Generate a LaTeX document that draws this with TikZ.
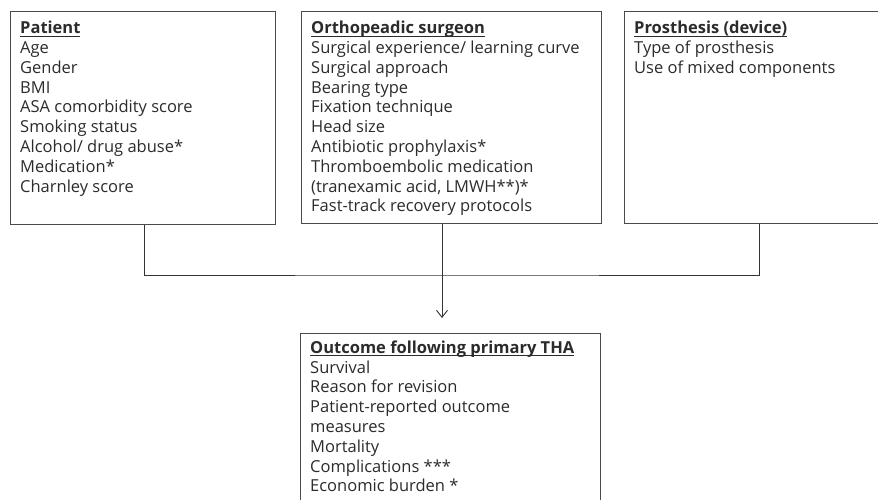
\documentclass[tikz,border=0pt]{standalone}
\usepackage{fontspec}
\setmainfont{Open Sans}
\usetikzlibrary{calc,arrows.meta}
\definecolor{ink}{HTML}{2B2B2B}
\definecolor{edge}{HTML}{4A4A4A}
\newsavebox\ttlbox
\newcommand\ttl[1]{\sbox\ttlbox{\bfseries #1}\rule{0pt}{14pt}\usebox\ttlbox\llap{\rule[-3pt]{\wd\ttlbox}{1pt}}}
\tikzset{
  x=1pt,y=1pt,
  box/.style={draw=edge,line width=1pt,anchor=north west,inner sep=0pt,minimum width=#1},
  txt/.style={anchor=north west,inner sep=0pt,align=left,text=ink,font=\fontsize{16.5}{19.8}\selectfont},
  conn/.style={draw=black!80,line width=0.9pt},
  arr/.style={-{Straight Barb[length=7pt,width=11pt,line width=0.9pt]}}
}
\begin{document}
\begin{tikzpicture}
\useasboundingbox (0,0) rectangle (878,-499);
\clip (0,0) rectangle (878,-499);
\node[box=265pt,minimum height=213pt] (pat) at (10,-11) {};
\node[box=300pt,minimum height=212pt] (surg) at (301,-11) {};
\node[box=270pt,minimum height=212pt] (pros) at (624,-11) {};
\node[box=300pt,minimum height=200pt] (out) at (300,-333) {};

\node[txt] (patt) at ($(pat.north west)+(10,-8.5)$) {\ttl{Patient}\\Age\\Gender\\BMI\\ASA comorbidity score\\Smoking status\\Alcohol/ drug abuse*\\Medication*\\Charnley score};
\node[txt] (surgt) at ($(surg.north west)+(10,-8.5)$) {\ttl{Orthopeadic surgeon}\\Surgical experience/ learning curve\\Surgical approach\\Bearing type\\Fixation technique\\Head size\\Antibiotic prophylaxis*\\Thromboembolic medication\\(tranexamic acid, LMWH**)*\\Fast-track recovery protocols};
\node[txt] (prost) at ($(pros.north west)+(10,-8.5)$) {\ttl{Prosthesis (device)}\\Type of prosthesis\\Use of mixed components};
\node[txt] (outt) at ($(out.north west)+(10,-6)$) {\ttl{Outcome following primary THA}\\Survival\\Reason for revision\\Patient-reported outcome\\measures\\Mortality\\Complications ***\\Economic burden *};

\coordinate (j) at (442,-275);
\draw[conn] ($(pat.south west)+(134,0)$) |- (j) -| ($(pros.south west)+(135,0)$);
\draw[conn,arr,shorten >=15pt] ($(surg.south west)+(141,0)$) -- ($(out.north west)+(142,0)$);
\end{tikzpicture}
\end{document}
